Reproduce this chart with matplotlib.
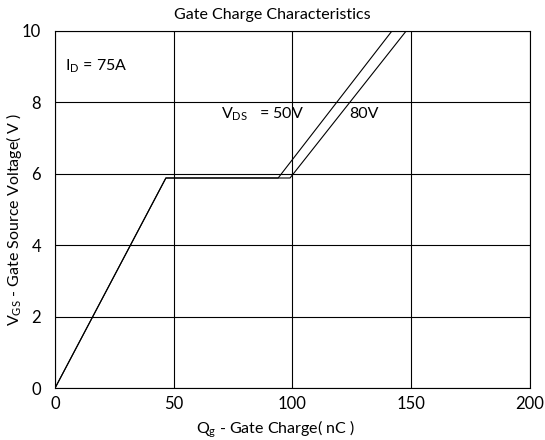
import numpy as np
import matplotlib.pyplot as plt

plt.rcParams['font.family'] = ['Lato', 'DejaVu Sans']
plt.rcParams['mathtext.fontset'] = 'custom'
plt.rcParams['mathtext.rm'] = 'Lato'
plt.rcParams['mathtext.it'] = 'Lato'

# gate charge curves (Qg nC, Vgs V)
qg_50v = [0, 46.7, 94, 142]
vgs_50v = [0, 5.88, 5.88, 10]
qg_80v = [0, 46.7, 99, 148]
vgs_80v = [0, 5.88, 5.88, 10]

xticks = [0, 50, 100, 150, 200]
yticks = [0, 2, 4, 6, 8, 10]

fig = plt.figure(figsize=(5.45, 4.4), dpi=100)
ax = fig.add_axes([0.101, 0.118, 0.871, 0.812])

ax.plot(qg_50v, vgs_50v, color='black', lw=0.8)
ax.plot(qg_80v, vgs_80v, color='black', lw=0.8)

ax.set_xlim(0, 200)
ax.set_ylim(0, 10)
ax.set_xticks(xticks)
ax.set_yticks(yticks)
ax.grid(True, color='black', lw=0.8)
ax.tick_params(length=0, labelsize=12)
ax.tick_params(axis='x', pad=6)
ax.tick_params(axis='y', pad=10)
for s in ax.spines.values():
    s.set_linewidth(0.8)

ax.text(4, 8.9, r'I$_{\mathrm{D}}$ = 75A', fontsize=11.5)
ax.text(70, 7.55, r'V$_{\mathrm{DS}}$   = 50V', fontsize=11.5)
ax.text(124, 7.55, '80V', fontsize=11.5)

fig.text(0.5, 0.965, 'Gate Charge Characteristics', fontsize=11.5,
         ha='center', va='center')
ax.set_xlabel(r'Q$_{\mathrm{g}}$ - Gate Charge( nC )', fontsize=11.5)
ax.xaxis.set_label_coords(0.465, -0.085)
ax.set_ylabel(r'V$_{\mathrm{GS}}$ - Gate Source Voltage( V )', fontsize=11.5)
ax.yaxis.set_label_coords(-0.066, 0.473)

fig.savefig('out.png', dpi=100)
